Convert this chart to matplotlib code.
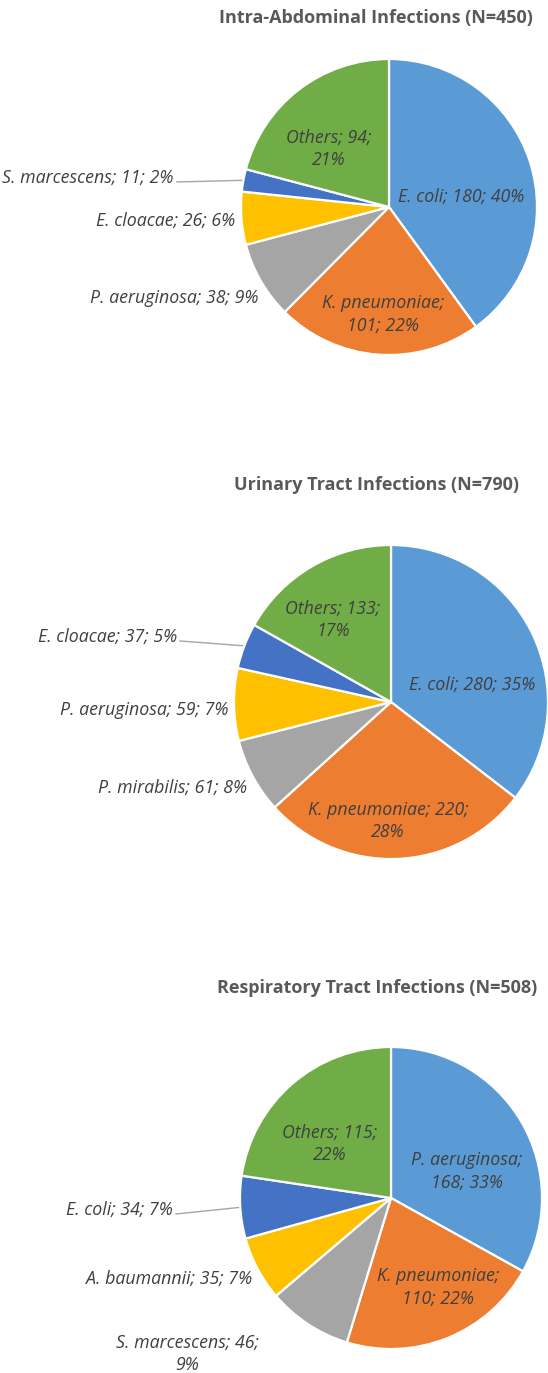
import matplotlib
matplotlib.use("Agg")
import matplotlib.pyplot as plt
import numpy as np

# ---------------- data ----------------
titles = ["Intra-Abdominal Infections (N=450)",
          "Urinary Tract Infections (N=790)",
          "Respiratory Tract Infections (N=508)"]

iai_labels = ["E. coli", "K. pneumoniae", "P. aeruginosa", "E. cloacae", "S. marcescens", "Others"]
iai_values = [180, 101, 38, 26, 11, 94]
iai_pct = [40, 22, 9, 6, 2, 21]

uti_labels = ["E. coli", "K. pneumoniae", "P. mirabilis", "P. aeruginosa", "E. cloacae", "Others"]
uti_values = [280, 220, 61, 59, 37, 133]
uti_pct = [35, 28, 8, 7, 5, 17]

rti_labels = ["P. aeruginosa", "K. pneumoniae", "S. marcescens", "A. baumannii", "E. coli", "Others"]
rti_values = [168, 110, 46, 35, 34, 115]
rti_pct = [33, 22, 9, 7, 7, 22]

colors = ["#5B9BD5", "#ED7D31", "#A5A5A5", "#FFC000", "#4472C4", "#70AD47"]

# ---------------- layout (pixels, image coordinates) ----------------
W, H = 548, 1373
FONT = "Open Sans"
TITLE_COLOR = "#595959"
LABEL_COLOR = "#404040"

charts = [
    dict(labels=iai_labels, values=iai_values, pct=iai_pct,
         center=(389, 207), radius=148, title_xy=(376, 18),
         wrap=[0, 1, 0, 0, 0, 2],
         pos=[(461, 197, "center"), (383, 314, "center"), (258, 298, "right"),
              (235, 221, "right"), (174, 178, "right"), (329, 149, "center")],
         leader=4),
    dict(labels=uti_labels, values=uti_values, pct=uti_pct,
         center=(391, 702), radius=157, title_xy=(377, 485),
         wrap=[0, 2, 0, 0, 0, 2],
         pos=[(472, 685, "center"), (388, 821, "center"), (247, 788, "right"),
              (228, 710, "right"), (177, 637, "right"), (333, 620, "center")],
         leader=4),
    dict(labels=rti_labels, values=rti_values, pct=rti_pct,
         center=(391, 1198), radius=151, title_xy=(377, 988),
         wrap=[1, 1, 2, 0, 0, 2],
         pos=[(467, 1171, "center"), (438, 1287, "center"), (187, 1354, "center"),
              (252, 1279, "right"), (173, 1210, "right"), (330, 1144, "center")],
         leader=4),
]

fig = plt.figure(figsize=(W / 100, H / 100), dpi=100)
ax = fig.add_axes([0, 0, 1, 1])

for n, ch in enumerate(charts):
    cx, cy = ch["center"]
    r = ch["radius"]
    wedges, _ = ax.pie(ch["values"], colors=colors, startangle=90, counterclock=False,
                       center=(cx, H - cy), radius=r,
                       wedgeprops=dict(edgecolor="white", linewidth=1.6))
    tx, ty = ch["title_xy"]
    ax.text(tx, H - ty, titles[n], ha="center", va="center",
            fontsize=13, fontweight="bold", color=TITLE_COLOR, family=FONT)
    for i, (name, val, p) in enumerate(zip(ch["labels"], ch["values"], ch["pct"])):
        parts = [name, str(val), f"{p}%"]
        w = ch["wrap"][i]
        if w == 1:
            s = parts[0] + ";\n" + parts[1] + "; " + parts[2]
        elif w == 2:
            s = parts[0] + "; " + parts[1] + ";\n" + parts[2]
        else:
            s = "; ".join(parts)
        x, y, ha = ch["pos"][i]
        ax.text(x, H - y, s, ha=ha, va="center", fontsize=12.8, style="italic",
                color=LABEL_COLOR, family=FONT, linespacing=1.35, multialignment="center")
    # leader line for the small slice
    k = ch["leader"]
    wdg = wedges[k]
    mid = np.deg2rad((wdg.theta1 + wdg.theta2) / 2)
    ex = cx + r * np.cos(mid)
    ey = (H - cy) + r * np.sin(mid)
    lx, ly, _ = ch["pos"][k]
    ax.plot([lx + 3, ex], [H - ly - 4, ey], color="#A6A6A6", lw=1.0, zorder=0.5)

ax.set_xlim(0, W)
ax.set_ylim(0, H)
ax.set_aspect("equal")
ax.axis("off")
fig.savefig("out.png", dpi=100, facecolor="white")
